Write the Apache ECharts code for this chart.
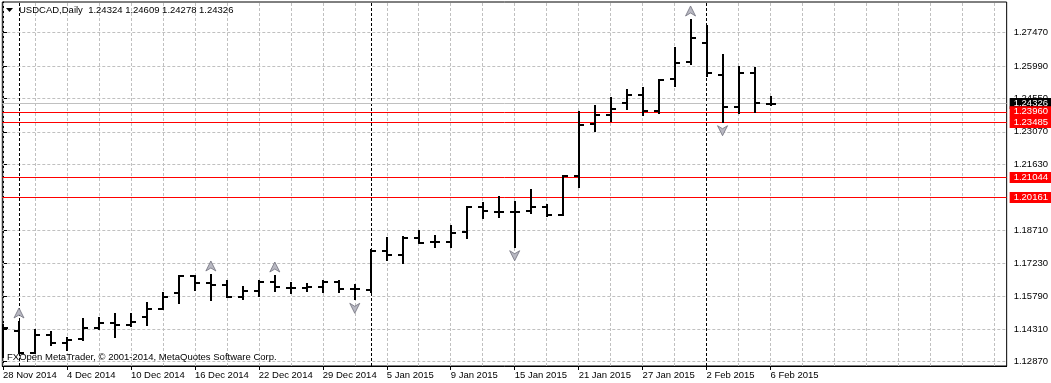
<!DOCTYPE html>
<html><head><meta charset="utf-8">
<script src="https://cdn.jsdelivr.net/npm/echarts@6/dist/echarts.min.js"></script>
<style>html,body{margin:0;padding:0;background:#fff;}#c{width:1051px;height:383px;}</style>
</head><body><div id="c"></div>
<script>
// ---- data (bar index = trading day from 28 Nov 2014) ----
const dateLabels = ['28 Nov 2014','4 Dec 2014','10 Dec 2014','16 Dec 2014','22 Dec 2014','29 Dec 2014','5 Jan 2015','9 Jan 2015','15 Jan 2015','21 Jan 2015','27 Jan 2015','2 Feb 2015','6 Feb 2015'];
const labelIdx = [0,4,8,12,16,20,24,28,32,36,40,44,48];
const opens  = [1.14450,1.14232,1.13278,1.14055,1.13687,1.13864,1.14352,1.14601,1.14499,1.14867,
                1.15209,1.15919,1.16695,1.16349,1.16274,1.15755,1.16008,1.16407,1.16154,1.16154,
                1.16198,1.16394,1.16096,1.16074,1.17796,1.17618,1.18346,1.18169,1.18195,1.18639,
                1.19722,1.19513,1.19513,1.19558,1.19748,1.19380,1.21111,1.23418,1.23831,1.24364,
                1.24705,1.24009,1.25402,1.26183,1.27026,1.25593,1.24186,1.25695,1.24324];
const highs  = [1.14499,1.14632,1.14277,1.14175,1.13935,1.14752,1.14796,1.14974,1.14987,1.15462,
                1.15897,1.16695,1.16695,1.16718,1.16451,1.16198,1.16451,1.16673,1.16349,1.16305,
                1.16451,1.16451,1.16274,1.17827,1.18373,1.18391,1.18683,1.18448,1.18892,1.19722,
                1.19899,1.20166,1.19944,1.20490,1.19824,1.21124,1.23964,1.24217,1.24559,1.24927,
                1.25003,1.25358,1.26778,1.28034,1.27767,1.26480,1.25935,1.25890,1.24609];
const lows   = [1.13079,1.13243,1.13243,1.13611,1.13389,1.13833,1.14308,1.13979,1.14454,1.14499,
                1.15187,1.15475,1.16030,1.15608,1.15728,1.15639,1.15786,1.16008,1.15905,1.16021,
                1.15976,1.15976,1.15639,1.15976,1.17383,1.17263,1.18124,1.17947,1.17947,1.18346,
                1.19234,1.19278,1.17973,1.19482,1.19336,1.19380,1.20609,1.23121,1.23565,1.24071,
                1.23804,1.23893,1.25118,1.26068,1.25549,1.23520,1.23893,1.23938,1.24278];
const closes = [1.14366,1.13278,1.14055,1.13687,1.13833,1.14352,1.14574,1.14499,1.14618,1.15195,
                1.15755,1.16695,1.16349,1.16274,1.15755,1.16008,1.16407,1.16198,1.16154,1.16198,
                1.16394,1.16096,1.16096,1.17796,1.17618,1.18346,1.18151,1.18195,1.18568,1.19722,
                1.19571,1.19513,1.19513,1.19748,1.19380,1.21124,1.23396,1.23796,1.24071,1.24705,
                1.24009,1.25358,1.26139,1.27248,1.25668,1.24186,1.25695,1.24364,1.24326];
const priceTicks = [1.12870,1.14310,1.15790,1.17230,1.18710,1.20190,1.21630,1.23070,1.24550,1.25990,1.27470];
const upFractalIdx = [1,13,17,43];
const downFractalIdx = [22,32,45];
const levelLines = [1.23960,1.23485,1.21044,1.20161];
const bidPrice = 1.24326;
const separatorIdx = [1,23,44];
const gridIdx = [0,2,4,6,8,10,12,14,16,18,20,22,24,26,28,30,32,34,36,38,40,42,44,46,48,50,52,54,56,58,60,62];
const titleText = 'USDCAD,Daily  1.24324 1.24609 1.24278 1.24326';
const copyrightText = 'FXOpen MetaTrader, \u00A9 2001-2014, MetaQuotes Software Corp.';

const FONT = 'Liberation Sans';
const FS = 9.5;
const ohlc = opens.map((o, i) => [i, o, highs[i], lows[i], closes[i]]);

const chart = echarts.init(document.getElementById('c'), null, {renderer: 'canvas'});
chart.setOption({
  animation: false,
  backgroundColor: '#fff',
  textStyle: {fontFamily: FONT, fontSize: FS},
  grid: {left: 2, right: 44, top: 2, bottom: 17, show: true, borderColor: '#000', borderWidth: 1, backgroundColor: 'transparent'},
  xAxis: {
    type: 'value', min: -0.04375, max: 62.76875,
    axisLine: {show: true, lineStyle: {color: '#000', width: 1}},
    axisTick: {show: true, length: 4, customValues: labelIdx, lineStyle: {color: '#000'}},
    axisLabel: {show: true, customValues: labelIdx, align: 'left', margin: 4,
      color: '#000', fontFamily: FONT, fontSize: FS,
      formatter: v => dateLabels[labelIdx.indexOf(Math.round(v))] || ''},
    splitLine: {show: false}
  },
  yAxis: {
    type: 'value', position: 'right', min: 1.126792, max: 1.288326, scale: true,
    axisLine: {show: true, lineStyle: {color: '#000', width: 1}},
    axisTick: {show: true, length: 4, customValues: priceTicks, lineStyle: {color: '#000'}},
    axisLabel: {show: true, customValues: priceTicks, margin: 7, color: '#000', fontFamily: FONT, fontSize: FS,
      formatter: v => v.toFixed(5)},
    splitLine: {show: true, lineStyle: {color: '#c0c0c0', type: [3, 2], width: 1}}
  },
  graphic: [
    {type: 'polygon', shape: {points: [[6, 8], [13, 8], [9.5, 12]]}, style: {fill: '#000'}, z: 100},
    {type: 'text', left: 19, top: 5, style: {text: titleText, fill: '#000', font: FS + 'px "' + FONT + '"'}, z: 100},
    {type: 'text', left: 7, top: 352, style: {text: copyrightText, fill: '#000', font: FS + 'px "' + FONT + '"'}, z: 100}
  ],
  series: [
    { // grid verticals + period separators
      type: 'scatter', data: [], clip: false, silent: true, z: 1,
      markLine: {
        silent: true, symbol: 'none', animation: false, precision: 5,
        label: {show: false},
        data: gridIdx.map(v => ({xAxis: v, lineStyle: {color: '#c0c0c0', type: [3, 2], width: 1}}))
          .concat(separatorIdx.map(v => ({xAxis: v, lineStyle: {color: '#000', type: [3, 2], width: 1}})))
      }
    },
    { // bid line
      type: 'scatter', data: [], clip: false, silent: true, z: 3,
      markLine: {
        silent: true, symbol: 'none', animation: false, precision: 5,
        lineStyle: {color: '#c0c0c0', type: 'solid', width: 1},
        label: {show: true, position: 'end', distance: 3, formatter: p => Number(p.value).toFixed(5),
          color: '#fff', backgroundColor: '#000', padding: [1, 3, 1, 4], lineHeight: 9,
          fontFamily: FONT, fontSize: FS},
        data: [{yAxis: bidPrice}]
      }
    },
    { // levels
      type: 'scatter', data: [], clip: false, silent: true, z: 4,
      markLine: {
        silent: true, symbol: 'none', animation: false, precision: 5,
        lineStyle: {color: '#ff0000', type: 'solid', width: 1},
        label: {show: true, position: 'end', distance: 3, formatter: p => Number(p.value).toFixed(5),
          color: '#fff', backgroundColor: '#ff0000', padding: [1, 3, 1, 4], lineHeight: 9,
          fontFamily: FONT, fontSize: FS},
        data: levelLines.map(v => ({yAxis: v}))
      }
    },
    { // OHLC bars
      type: 'custom', z: 10, clip: true,
      data: ohlc,
      encode: {x: 0, y: [1, 2, 3, 4]},
      renderItem: (params, api) => {
        const i = api.value(0);
        const o = api.coord([i, api.value(1)]);
        const h = api.coord([i, api.value(2)]);
        const l = api.coord([i, api.value(3)]);
        const c = api.coord([i, api.value(4)]);
        const x = Math.round(o[0]) - 1;
        const yh = Math.round(h[1]), yl = Math.round(l[1]);
        const yo = Math.round(o[1]) - 1, yc = Math.round(c[1]) - 1;
        const st = {fill: '#000'};
        return {type: 'group', children: [
          {type: 'rect', shape: {x: x, y: yh - 1, width: 2, height: Math.max(2, yl - yh + 2)}, style: st},
          {type: 'rect', shape: {x: x - 4, y: yo, width: 4, height: 2}, style: st},
          {type: 'rect', shape: {x: x + 2, y: yc, width: 4, height: 2}, style: st}
        ]};
      }
    },
    { // up fractals
      type: 'scatter', z: 11, silent: true,
      data: upFractalIdx.map(i => [i, highs[i]]),
      symbol: 'path://M5,0 L10,10 L5,7 L0,10 Z', symbolSize: [10, 10], symbolOffset: [0, -9],
      itemStyle: {color: '#b8b8c2', borderColor: '#70707c', borderWidth: 0.8, opacity: 1}
    },
    { // down fractals
      type: 'scatter', z: 11, silent: true,
      data: downFractalIdx.map(i => [i, lows[i]]),
      symbol: 'path://M0,0 L5,3 L10,0 L5,10 Z', symbolSize: [10, 10], symbolOffset: [0, 9],
      itemStyle: {color: '#b8b8c2', borderColor: '#70707c', borderWidth: 0.8, opacity: 1}
    }
  ]
});
</script></body></html>
